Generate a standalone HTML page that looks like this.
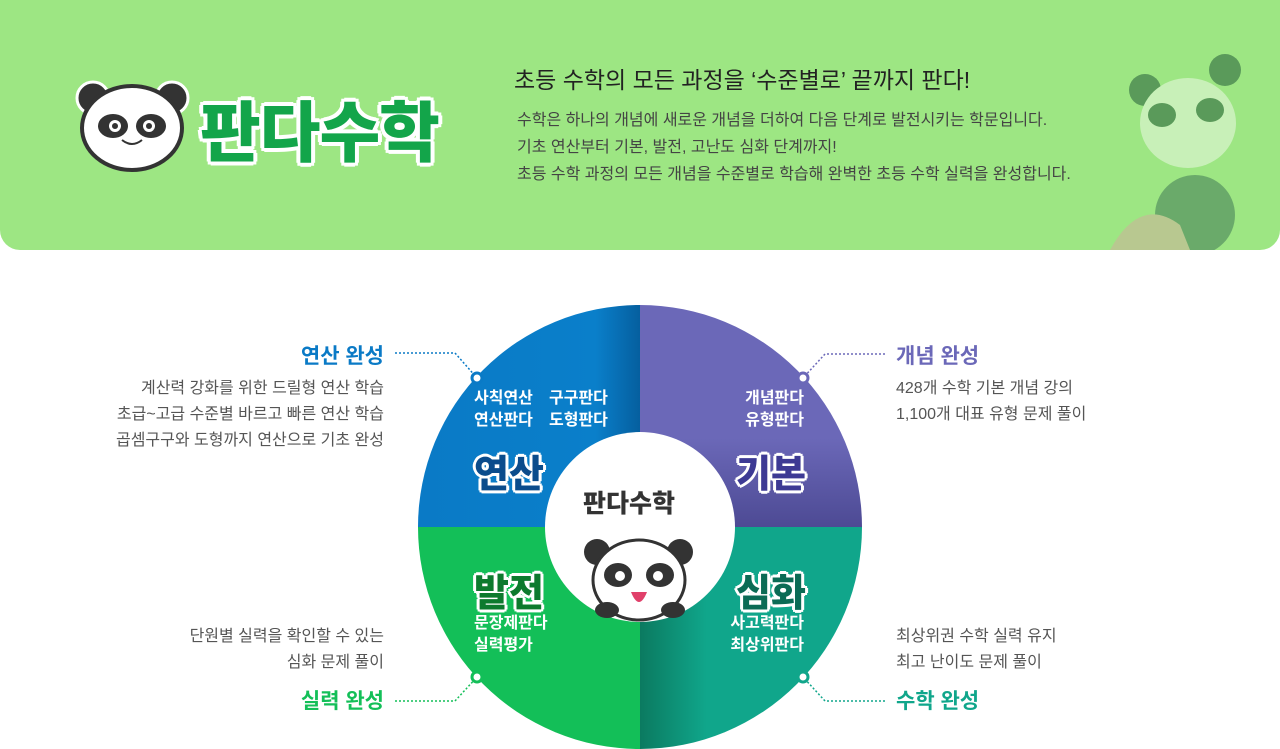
<!DOCTYPE html>
<html><head><meta charset="utf-8"><style>
body{margin:0;width:1280px;height:749px;background:#fff;position:relative;overflow:hidden;font-family:"Liberation Sans","Noto Sans CJK KR",sans-serif}
.hd{position:absolute;left:0;top:0;width:1280px;height:250px;background:#9de683;border-radius:0 0 20px 20px}
.t{position:absolute;white-space:nowrap}
.logo{left:200px;top:80px;font-size:66px;font-weight:900;color:#13a54a;text-shadow:3px 3px 0 #fff,-3px -3px 0 #fff,3px -3px 0 #fff,-3px 3px 0 #fff,0 4px 0 #fff,0 -4px 0 #fff,4px 0 0 #fff,-4px 0 0 #fff;letter-spacing:-1px}
.r{text-align:right}
.h{font-size:21px;font-weight:bold}
.p{font-size:16px;color:#555;line-height:26px}
.w{color:#fff;font-size:16px;font-weight:bold;line-height:22px}
.big{font-size:38px;font-weight:900;text-shadow:2px 2px 0 #fff,-2px -2px 0 #fff,2px -2px 0 #fff,-2px 2px 0 #fff,0 3px 0 #fff,0 -3px 0 #fff,3px 0 0 #fff,-3px 0 0 #fff}
</style></head><body>
<div class="hd"></div>
<svg class="t" style="left:75px;top:78px" width="115" height="95" viewBox="0 0 115 95">
<circle cx="18" cy="20" r="16" fill="#333" stroke="#fff" stroke-width="3"/><circle cx="97" cy="20" r="16" fill="#333" stroke="#fff" stroke-width="3"/>
<ellipse cx="57" cy="50" rx="50" ry="42" fill="#fff" stroke="#333" stroke-width="4"/>
<ellipse cx="38" cy="48" rx="15" ry="12" fill="#333"/><ellipse cx="76" cy="48" rx="15" ry="12" fill="#333"/>
<circle cx="40" cy="48" r="6" fill="#fff"/><circle cx="74" cy="48" r="6" fill="#fff"/><circle cx="40" cy="48" r="3" fill="#333"/><circle cx="74" cy="48" r="3" fill="#333"/>
<path d="M47 62 Q57 70 67 62" stroke="#333" stroke-width="2" fill="none"/></svg>
<div class="t logo">판다수학</div>
<div class="t" style="left:514px;top:61px;font-size:23px;color:#222">초등 수학의 모든 과정을 ‘수준별로’ 끝까지 판다!</div>
<div class="t" style="left:517px;top:107px;font-size:16px;color:#444;line-height:27px">수학은 하나의 개념에 새로운 개념을 더하여 다음 단계로 발전시키는 학문입니다.<br>기초 연산부터 기본, 발전, 고난도 심화 단계까지!<br>초등 수학 과정의 모든 개념을 수준별로 학습해 완벽한 초등 수학 실력을 완성합니다.</div>
<svg class="t" style="left:1100px;top:45px" width="160" height="205"><circle cx="45" cy="45" r="16" fill="#5a9a5a"/><circle cx="125" cy="25" r="16" fill="#5a9a5a"/><ellipse cx="88" cy="78" rx="48" ry="45" fill="#c8f0b8"/><ellipse cx="62" cy="70" rx="14" ry="12" fill="#5a9a5a"/><ellipse cx="110" cy="65" rx="14" ry="12" fill="#5a9a5a"/><ellipse cx="95" cy="170" rx="40" ry="40" fill="#6aaa6a"/><path d="M10 205 Q40 150 80 180 L90 205Z" fill="#b8c890"/></svg>

<svg class="t" style="left:0;top:0" width="1280" height="749">
<defs>
<linearGradient id="gb" x1="0" x2="1"><stop offset="0" stop-color="#0a7ac6"/><stop offset=".8" stop-color="#0a7fca"/><stop offset="1" stop-color="#055f9f"/></linearGradient>
<linearGradient id="gp" x1="0" y1="0" x2="0" y2="1"><stop offset=".6" stop-color="#6b68b8"/><stop offset="1" stop-color="#4d4a94"/></linearGradient>
<linearGradient id="gt" x1="0" x2="1"><stop offset="0" stop-color="#0b7a60"/><stop offset=".3" stop-color="#10a68b"/><stop offset="1" stop-color="#10a68b"/></linearGradient>
</defs>
<path d="M640 527 L418 527 A222 222 0 0 1 640 305Z" fill="url(#gb)"/>
<path d="M640 527 L640 305 A222 222 0 0 1 862 527Z" fill="url(#gp)"/>
<path d="M640 527 L862 527 A222 222 0 0 1 640 749Z" fill="url(#gt)"/>
<path d="M640 527 L640 749 A222 222 0 0 1 418 527Z" fill="#13bf58"/>
<circle cx="640" cy="527" r="95" fill="#fff"/>
<g stroke-dasharray="2 2" stroke-width="1.5" fill="none">
<path d="M395 353 H455 L477 378" stroke="#0a7ac6"/>
<path d="M885 354 H825 L803 378" stroke="#6b68b8"/>
<path d="M395 701 H455 L477 677" stroke="#13bf58"/>
<path d="M885 701 H825 L803 677" stroke="#10a68b"/>
</g>
<g fill="#fff" stroke-width="3"><circle cx="477" cy="378" r="5" stroke="#0a7ac6"/><circle cx="803" cy="378" r="5" stroke="#6b68b8"/><circle cx="477" cy="677" r="5" stroke="#13bf58"/><circle cx="803" cy="677" r="5" stroke="#10a68b"/></g>
<circle cx="597" cy="552" r="13" fill="#333"/><circle cx="680" cy="552" r="13" fill="#333"/>
<ellipse cx="639" cy="580" rx="46" ry="40" fill="#fff" stroke="#333" stroke-width="3"/>
<ellipse cx="618" cy="575" rx="14" ry="12" fill="#333"/><ellipse cx="660" cy="575" rx="14" ry="12" fill="#333"/>
<circle cx="620" cy="576" r="5" fill="#fff"/><circle cx="658" cy="576" r="5" fill="#fff"/>
<path d="M631 592 Q639 612 647 592Z" fill="#e0406a"/>
<ellipse cx="607" cy="610" rx="12" ry="8" fill="#333"/><ellipse cx="673" cy="610" rx="12" ry="8" fill="#333"/>
</svg>
<div class="t h r" style="right:896px;top:340px;color:#0a7ac6">연산 완성</div>
<div class="t p r" style="right:896px;top:376px">계산력 강화를 위한 드릴형 연산 학습<br>초급~고급 수준별 바르고 빠른 연산 학습<br>곱셈구구와 도형까지 연산으로 기초 완성</div>
<div class="t h" style="left:896px;top:340px;color:#6b68b8">개념 완성</div>
<div class="t p" style="left:896px;top:376px">428개 수학 기본 개념 강의<br>1,100개 대표 유형 문제 풀이</div>
<div class="t p r" style="right:896px;top:624px">단원별 실력을 확인할 수 있는<br>심화 문제 풀이</div>
<div class="t h r" style="right:896px;top:685px;color:#13bf58">실력 완성</div>
<div class="t p" style="left:896px;top:624px">최상위권 수학 실력 유지<br>최고 난이도 문제 풀이</div>
<div class="t h" style="left:896px;top:685px;color:#10a68b">수학 완성</div>
<div class="t w" style="left:474px;top:388px">사칙연산<br>연산판다</div>
<div class="t w" style="left:549px;top:388px">구구판다<br>도형판다</div>
<div class="t w r" style="right:476px;top:388px">개념판다<br>유형판다</div>
<div class="t w" style="left:474px;top:613px">문장제판다<br>실력평가</div>
<div class="t w r" style="right:476px;top:613px">사고력판다<br>최상위판다</div>
<div class="t big" style="left:474px;top:443px;color:#0b4c8c">연산</div>
<div class="t big" style="left:736px;top:443px;color:#3d3a94">기본</div>
<div class="t big" style="left:474px;top:562px;color:#0d7a2e">발전</div>
<div class="t big" style="left:736px;top:562px;color:#0b6b55">심화</div>
<div class="t" style="left:583px;top:484px;font-size:25px;font-weight:900;color:#333">판다수학</div>
</body></html>
